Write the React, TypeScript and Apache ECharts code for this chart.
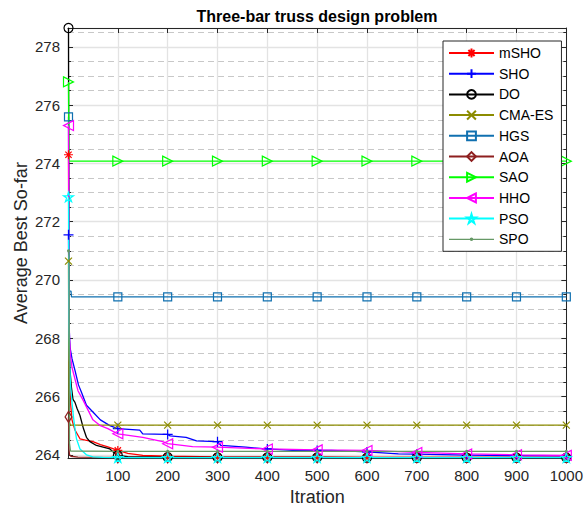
import React, { useEffect, useRef } from "react";
import * as echarts from "echarts";

const FONT = "'Liberation Sans', Arial, Helvetica, sans-serif";
const AXIS_COLOR = "#262626";

const xTickValues = [100, 200, 300, 400, 500, 600, 700, 800, 900, 1000];
const markerIters = [1, 100, 200, 300, 400, 500, 600, 700, 800, 900, 1000];

const mshoIter = [1, 2, 3, 5, 8, 14, 24, 35, 50, 65, 80, 100, 120, 150, 200, 300, 400, 500, 600, 700, 800, 900, 1000];
const mshoVal = [274.3, 268.0, 266.8, 265.8, 265.2, 264.85, 264.55, 264.5, 264.45, 264.35, 264.27, 264.15, 264.05, 263.98, 263.95, 263.93, 263.92, 263.92, 263.91, 263.91, 263.91, 263.91, 263.91];

const shoIter = [1, 2, 4, 8, 14, 21, 27, 37, 50, 65, 84, 100, 144, 150, 197, 200, 205, 237, 258, 297, 300, 307, 357, 397, 400, 450, 500, 529, 600, 663, 700, 800, 889, 900, 1000];
const shoVal = [271.55, 268.5, 267.7, 267.3, 266.9, 266.4, 266.15, 265.7, 265.47, 265.2, 265.0, 264.9, 264.85, 264.72, 264.7, 264.7, 264.65, 264.6, 264.48, 264.45, 264.45, 264.32, 264.26, 264.2, 264.2, 264.15, 264.15, 264.15, 264.1, 264.03, 264.02, 263.99, 263.97, 263.97, 263.96];

const doIter = [1, 2, 4, 7, 10, 14, 18, 24, 31, 37, 44, 57, 84, 97, 100, 120, 200, 300, 400, 500, 600, 700, 800, 900, 1000];
const doVal = [278.65, 268.5, 266.9, 266.3, 265.9, 265.8, 265.6, 265.35, 264.9, 264.6, 264.45, 264.32, 264.2, 264.0, 263.98, 263.94, 263.92, 263.91, 263.91, 263.91, 263.9, 263.9, 263.9, 263.9, 263.9];

const cmaIter = [1, 2, 3, 5, 100, 200, 300, 400, 500, 600, 700, 800, 900, 1000];
const cmaVal = [270.65, 266.2, 265.1, 265.02, 265.02, 265.02, 265.02, 265.02, 265.02, 265.02, 265.02, 265.02, 265.02, 265.02];

const hgsIter = [1, 2, 6, 7, 100, 200, 300, 400, 500, 600, 700, 800, 900, 1000];
const hgsVal = [275.6, 269.62, 269.62, 269.42, 269.42, 269.42, 269.42, 269.42, 269.42, 269.42, 269.42, 269.42, 269.42, 269.42];

const aoaIter = [1, 2, 3, 6, 20, 100, 200, 300, 400, 500, 600, 700, 800, 900, 1000];
const aoaVal = [265.3, 264.2, 264.0, 263.95, 263.92, 263.91, 263.91, 263.91, 263.91, 263.91, 263.91, 263.91, 263.91, 263.91, 263.91];

const saoIter = [1, 2, 100, 200, 300, 400, 500, 600, 700, 800, 900, 1000];
const saoVal = [276.8, 274.08, 274.08, 274.08, 274.08, 274.08, 274.08, 274.08, 274.08, 274.08, 274.08, 274.08];

const hhoIter = [1, 2, 3, 5, 8, 11, 20, 31, 50, 65, 80, 100, 150, 190, 200, 250, 300, 400, 500, 600, 700, 800, 900, 1000];
const hhoVal = [275.3, 269.0, 268.0, 267.4, 267.0, 266.8, 266.2, 265.85, 265.2, 265.0, 264.9, 264.72, 264.6, 264.45, 264.38, 264.28, 264.26, 264.2, 264.17, 264.15, 264.08, 264.03, 264.0, 263.98];

const psoIter = [1, 2, 3, 5, 8, 11, 14, 17, 24, 37, 50, 70, 100, 200, 300, 400, 500, 600, 700, 800, 900, 1000];
const psoVal = [272.85, 268.5, 267.3, 266.4, 265.8, 265.3, 264.9, 264.55, 264.2, 264.0, 263.93, 263.91, 263.9, 263.9, 263.9, 263.9, 263.9, 263.9, 263.9, 263.9, 263.9, 263.9];

const spoIter = [1, 2, 3, 5, 100, 200, 300, 400, 500, 600, 700, 800, 900, 1000];
const spoVal = [271.0, 270.8, 264.4, 264.13, 264.12, 264.12, 264.12, 264.12, 264.12, 264.12, 264.12, 264.12, 264.12, 264.12];

const Y_MIN = 263.89;
const Y_MAX = 278.65;

const SYM_ASTERISK = "path://M0,-1L0,1M-1,0L1,0M-0.7,-0.7L0.7,0.7M-0.7,0.7L0.7,-0.7";
const SYM_PLUS = "path://M0,-1L0,1M-1,0L1,0";
const SYM_X = "path://M-1,-1L1,1M-1,1L1,-1";
const SYM_SQUARE = "path://M-1,-1L1,-1L1,1L-1,1Z";
const SYM_DIAMOND = "path://M0,-1L0.62,0L0,1L-0.62,0Z";
const SYM_TRI_RIGHT = "path://M-1,-1L1,0L-1,1Z";
const SYM_TRI_LEFT = "path://M1,-1L-1,0L1,1Z";
const SYM_STAR = "path://M0,-1L0.2245,-0.309L0.951,-0.309L0.363,0.118L0.588,0.809L0,0.382L-0.588,0.809L-0.363,0.118L-0.951,-0.309L-0.2245,-0.309Z";
const LEGEND_DOT_LINE = "path://M0,4.4L45,4.4L45,5.6L0,5.6ZM24.3,5A1.8,1.8,0,1,1,20.7,5A1.8,1.8,0,1,1,24.3,5Z";

type Def = {
  name: string;
  iters: number[];
  vals: number[];
  color: string;
  symbol: string;
  size: number;
  filled?: boolean;
  legendIcon?: string;
};

const defs: Def[] = [
  { name: "mSHO", iters: mshoIter, vals: mshoVal, color: "#ff0000", symbol: SYM_ASTERISK, size: 9 },
  { name: "SHO", iters: shoIter, vals: shoVal, color: "#0000ff", symbol: SYM_PLUS, size: 10 },
  { name: "DO", iters: doIter, vals: doVal, color: "#000000", symbol: "circle", size: 9 },
  { name: "CMA-ES", iters: cmaIter, vals: cmaVal, color: "#8c8c00", symbol: SYM_X, size: 7 },
  { name: "HGS", iters: hgsIter, vals: hgsVal, color: "#1070b0", symbol: SYM_SQUARE, size: 8 },
  { name: "AOA", iters: aoaIter, vals: aoaVal, color: "#8e1f1f", symbol: SYM_DIAMOND, size: 11 },
  { name: "SAO", iters: saoIter, vals: saoVal, color: "#00ff00", symbol: SYM_TRI_RIGHT, size: 10 },
  { name: "HHO", iters: hhoIter, vals: hhoVal, color: "#ff00ff", symbol: SYM_TRI_LEFT, size: 10 },
  { name: "PSO", iters: psoIter, vals: psoVal, color: "#00ffff", symbol: SYM_STAR, size: 10 },
  { name: "SPO", iters: spoIter, vals: spoVal, color: "#669966", symbol: "circle", size: 3, filled: true, legendIcon: LEGEND_DOT_LINE },
];

export default function App() {
  const ref = useRef<HTMLDivElement>(null);

  useEffect(() => {
    if (!ref.current) return;
    const chart = echarts.init(ref.current, null, { renderer: "svg" });

    const series = defs.map((d) => ({
      type: "line",
      name: d.name,
      symbol: d.symbol,
      symbolSize: d.size,
      symbolKeepAspect: true,
      showSymbol: true,
      showAllSymbol: true,
      clip: false,
      silent: true,
      lineStyle: { color: d.color, width: 1.3 },
      itemStyle: {
        color: d.filled ? d.color : "none",
        borderColor: d.color,
        borderWidth: d.filled ? 0 : 1.2,
      },
      emphasis: { disabled: true },
      data: d.iters.map((x, i) => ({
        value: [x, d.vals[i]],
        symbol: markerIters.includes(x) ? d.symbol : "none",
      })),
    }));

    const baseAxisLine = { show: true, onZero: false, lineStyle: { color: AXIS_COLOR, width: 1 } };

    chart.setOption({
      animation: false,
      backgroundColor: "#ffffff",
      title: {
        text: "Three-bar truss design problem",
        left: 312,
        top: 3,
        textAlign: "center",
        textStyle: { fontSize: 16, fontWeight: "bold", color: "#000000", fontFamily: FONT },
      },
      graphic: [
        {
          type: "text",
          x: 21,
          y: 243,
          rotation: Math.PI / 2,
          silent: true,
          style: {
            text: "Average Best So-far",
            align: "center",
            verticalAlign: "middle",
            fontSize: 18,
            fontFamily: FONT,
            fill: AXIS_COLOR,
          },
        },
      ],
      grid: { left: 68, right: 17, top: 28, bottom: 54, containLabel: false },
      legend: {
        orient: "vertical",
        left: 443,
        top: 41,
        itemWidth: 45,
        itemHeight: 11,
        itemGap: 6.7,
        padding: [5, 8, 5, 5],
        backgroundColor: "#ffffff",
        borderColor: AXIS_COLOR,
        borderWidth: 1,
        textStyle: { fontSize: 14, color: "#000000", fontFamily: FONT },
        data: defs.map((d) => (d.legendIcon ? { name: d.name, icon: d.legendIcon } : d.name)),
      },
      xAxis: [
        {
          type: "value",
          min: 0,
          max: 1000,
          interval: 100,
          position: "bottom",
          name: "Itration",
          nameLocation: "middle",
          nameGap: 29,
          nameTextStyle: { fontSize: 18, color: AXIS_COLOR, fontFamily: FONT },
          axisLine: baseAxisLine,
          axisTick: { show: true, inside: true, length: 5, lineStyle: { color: AXIS_COLOR } },
          axisLabel: {
            showMinLabel: false,
            fontSize: 15,
            color: AXIS_COLOR,
            fontFamily: FONT,
            margin: 10,
            formatter: (v: number) => (xTickValues.includes(v) ? String(v) : ""),
          },
          splitLine: { show: true, lineStyle: { color: "#e3e3e3", width: 1.3 } },
        },
        {
          type: "value",
          min: 0,
          max: 1000,
          interval: 100,
          position: "top",
          axisLine: baseAxisLine,
          axisTick: { show: true, inside: true, length: 5, lineStyle: { color: AXIS_COLOR } },
          axisLabel: { show: false },
          splitLine: { show: false },
        },
      ],
      yAxis: [
        {
          type: "value",
          min: Y_MIN,
          max: Y_MAX,
          splitNumber: 7,
          position: "left",
          axisLine: baseAxisLine,
          axisTick: { show: true, inside: true, length: 5, lineStyle: { color: AXIS_COLOR } },
          minorTick: { show: true, splitNumber: 4, length: 3, lineStyle: { color: AXIS_COLOR } },
          axisLabel: {
            showMinLabel: false,
            showMaxLabel: false,
            fontSize: 15,
            color: AXIS_COLOR,
            fontFamily: FONT,
            margin: 8,
          },
          splitLine: { show: true, lineStyle: { color: "#e3e3e3", width: 1.3 } },
          minorSplitLine: { show: true, lineStyle: { color: "#c8c8c8", width: 1, type: [6, 4] } },
        },
        {
          type: "value",
          min: Y_MIN,
          max: Y_MAX,
          splitNumber: 7,
          position: "right",
          axisLine: baseAxisLine,
          axisTick: { show: true, inside: true, length: 5, lineStyle: { color: AXIS_COLOR } },
          minorTick: { show: true, splitNumber: 4, length: 3, lineStyle: { color: AXIS_COLOR } },
          axisLabel: { show: false },
          splitLine: { show: false },
          minorSplitLine: { show: false },
        },
      ],
      series,
    });

    return () => chart.dispose();
  }, []);

  return (
    <div
      ref={ref}
      style={{ position: "fixed", left: 0, top: 0, width: 586, height: 512, background: "#fff" }}
    />
  );
}
